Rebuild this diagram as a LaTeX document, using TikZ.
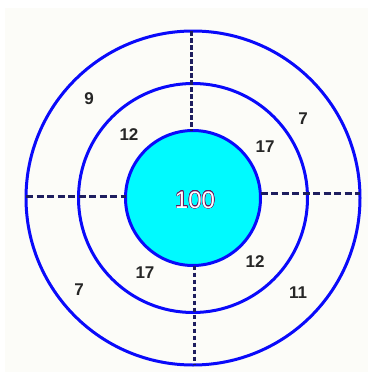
\documentclass[tikz,border=0pt]{standalone}
\usepackage{fontspec}
\setmainfont{Liberation Sans}
\usepackage{contour}
\usetikzlibrary{positioning}
\definecolor{bersaglio}{RGB}{10,10,250}
\definecolor{ciano}{RGB}{0,250,255}
\definecolor{tratto}{RGB}{30,30,95}
\definecolor{viola}{RGB}{110,20,90}
\definecolor{sfondo}{RGB}{252,252,248}
\contourlength{0.4pt}
\tikzset{
  anello/.style={circle, draw=bersaglio, line width=3pt, inner sep=0pt, outer sep=0pt},
  vtratto/.style={draw=tratto, line width=2.8pt, dash pattern=on 4.5pt off 2.5pt},
  htratto/.style={draw=tratto, line width=2.8pt, dash pattern=on 7pt off 3.5pt},
  punti/.style={font=\bfseries\fontsize{17}{17}\selectfont, text=black!85}
}
\begin{document}
\begin{tikzpicture}[x=1pt,y=-1pt]
  \useasboundingbox (0,0) rectangle (368,372);
  %sfondo
  \fill[sfondo] (5,8) rectangle (368,372);

  %anelli del bersaglio
  \node[anello, minimum size=334pt] (esterno) at (193,198) {};
  \node[anello, minimum size=229pt] (medio) at (193,198) {};
  \node[anello, minimum size=135pt, fill=ciano] (centro) at (193,198) {};

  %linee tratteggiate
  \draw[vtratto] ([xshift=-1.3pt]esterno.north) -- ([xshift=-1.3pt]centro.north);
  \draw[vtratto] ([xshift=1.5pt]centro.south) -- ([xshift=1.5pt]esterno.south);
  \draw[htratto] ([yshift=1.3pt]esterno.west) -- ([yshift=1.3pt]centro.west);
  \draw[htratto] ([yshift=4.7pt]centro.east) -- ([yshift=4.7pt]esterno.east);

  %punteggi
  \node[font=\fontsize{24}{24}\selectfont, text=white] (cento) at (195,200) {\contour{viola}{100}};
  \node[punti] (p9) at (89,99) {9};
  \node[punti] (p7a) at (303,119) {7};
  \node[punti] (p12a) at (129,135) {12};
  \node[punti] (p17a) at (265,147) {17};
  \node[punti] (p12b) at (255,262) {12};
  \node[punti] (p17b) at (145,273) {17};
  \node[punti] (p7b) at (79,290) {7};
  \node[punti] (p11) at (298,293) {11};
\end{tikzpicture}
\end{document}
